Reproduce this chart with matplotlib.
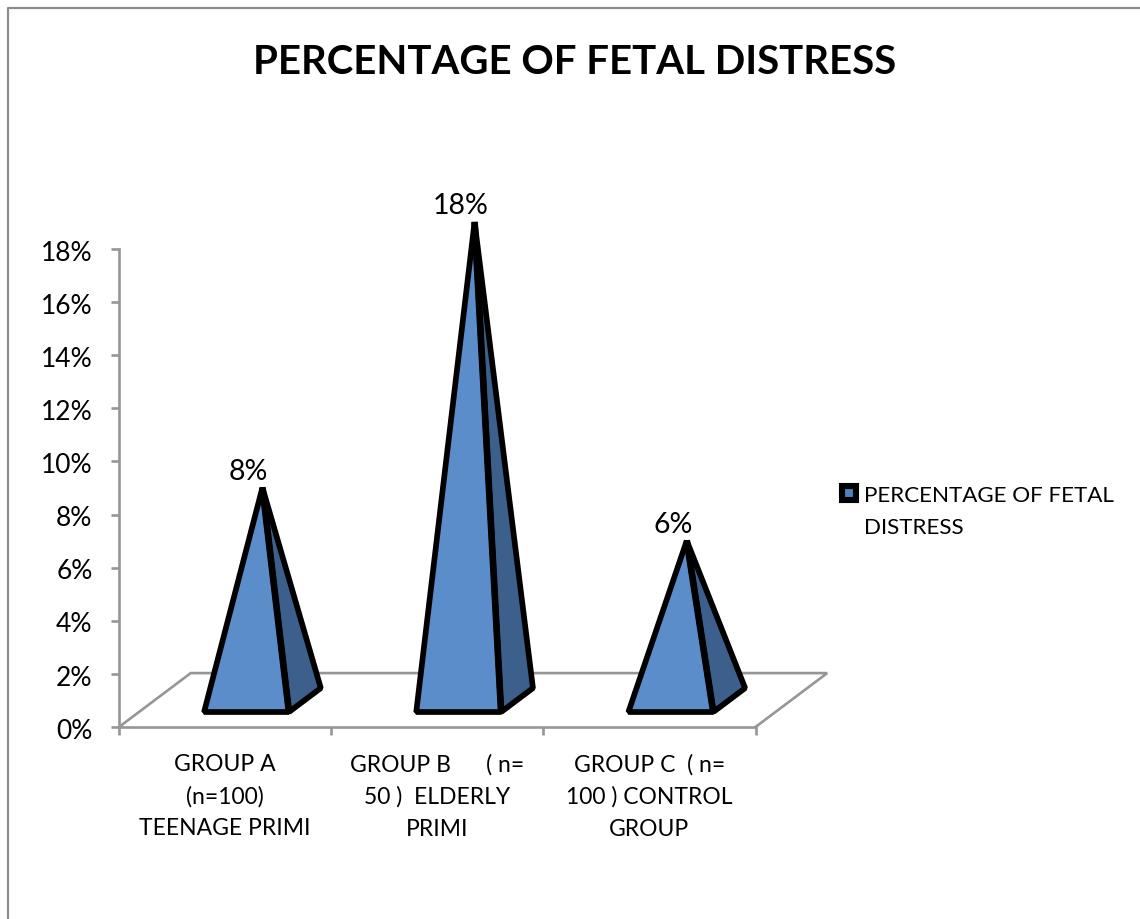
import matplotlib
matplotlib.use("Agg")
import matplotlib.pyplot as plt
from matplotlib.patches import Polygon, Patch, Rectangle
from matplotlib.lines import Line2D
from matplotlib.legend_handler import HandlerPatch

plt.rcParams['font.family'] = ['Lato', 'DejaVu Sans']

TITLE = "PERCENTAGE OF FETAL DISTRESS"
SERIES = "PERCENTAGE OF FETAL\nDISTRESS"
categories = ["GROUP A\n(n=100)\nTEENAGE PRIMI",
              "GROUP B      ( n=\n50 )  ELDERLY\nPRIMI",
              "GROUP C  ( n=\n100 ) CONTROL\nGROUP"]
values = [8, 18, 6]
yticks = [0, 2, 4, 6, 8, 10, 12, 14, 16, 18]

W, H = 1140, 919
GREY = "#969696"
FRONT = "#5B8DCB"
SIDE = "#3C5F8C"
LEGEND_FILL = "#4F81BD"

# Oblique projection of the 3D floor: one unit of depth shifts a point
# right and up in axis units.
DEPTH_X, DEPTH_Y = 0.338, 2.03


def project(x, y, d):
    return x + d * DEPTH_X, y + d * DEPTH_Y


def raised_swatch(legend, orig_handle, xdescent, ydescent, width, height, fontsize):
    # Lines the swatch up with the first row of the two-line legend label
    return Rectangle((-xdescent, -ydescent + 13.7), width, height)


fig = plt.figure(figsize=(W / 100, H / 100), dpi=100, facecolor="white")
ax = fig.add_axes([119 / W, 1 - 727 / H, (755.5 - 119) / W, (727 - 249) / H])
ax.set_xlim(0, 3)
ax.set_ylim(0, 18)
ax.patch.set_alpha(0)

# Chart frame, open at the right and bottom
fig.add_artist(Line2D([8 / W, 8 / W, 1], [0, 1 - 8 / H, 1 - 8 / H],
                      color="#8C8C8C", lw=1.6, transform=fig.transFigure))

for side in ("top", "right"):
    ax.spines[side].set_visible(False)
for side in ("left", "bottom"):
    ax.spines[side].set_color(GREY)
    ax.spines[side].set_linewidth(1.9)

ax.set_yticks(yticks)
ax.set_yticklabels([])
ax.set_xticks(range(4))
ax.set_xticklabels([])
ax.tick_params(axis="both", color=GREY, width=1.9, length=5.5)

# Value labels sit slightly below their tick marks
for v in yticks:
    ax.annotate(f"{v}%", (0, v), xytext=(-19, -3), textcoords="offset points",
                ha="right", va="center", fontsize=19, color="black",
                annotation_clip=False)

# Floor outline behind the pyramids
floor = [project(0, 0, 0), project(0, 0, 1), project(3, 0, 1), project(3, 0, 0)]
ax.plot(*zip(*floor), color=GREY, lw=1.9, clip_on=False, zorder=1,
        solid_joinstyle="miter")

# Pyramids: the apex rises from the centre of the base
HALF_WIDTH = 0.2
D_FRONT, D_BACK = 0.278, 0.722
edge = dict(edgecolor="black", linewidth=4.1, joinstyle="bevel", clip_on=False)
for i, v in enumerate(values):
    c = i + 0.507
    fl = project(c - HALF_WIDTH, 0, D_FRONT)
    fr = project(c + HALF_WIDTH, 0, D_FRONT)
    br = project(c + HALF_WIDTH, 0, D_BACK)
    apex_x, apex_y = project(c, v, 0.5)
    ax.add_patch(Polygon([fr, br, (apex_x, apex_y)], facecolor=SIDE, zorder=3, **edge))
    ax.add_patch(Polygon([fl, fr, (apex_x, apex_y)], facecolor=FRONT, zorder=4, **edge))
    # The shared ridge reads heavier than the outer edges
    ax.plot([fr[0], apex_x], [fr[1], apex_y], color="black", lw=4.8, zorder=4.5,
            clip_on=False, solid_capstyle="butt")
    ax.annotate(f"{v}%", (apex_x, apex_y), xytext=(-10, 2), textcoords="offset points",
                ha="center", va="bottom", fontsize=20.5, color="black",
                annotation_clip=False, zorder=5)

for i, label in enumerate(categories):
    ax.annotate(label, (i + 0.5, 0), xytext=(0, -19.2), textcoords="offset points",
                ha="center", va="top", fontsize=16.5, linespacing=1.64,
                color="black", annotation_clip=False)

fig.text(574.5 / W, 1 - 62 / H, TITLE, ha="center", va="center",
         fontsize=28.9, fontweight="bold", color="black")

handle = Patch(facecolor=LEGEND_FILL, edgecolor="black", linewidth=4.4, joinstyle="round")
legend = fig.legend([handle], [SERIES], loc="upper left", bbox_to_anchor=(842 / W, 1 - 486 / H),
                    frameon=False, fontsize=16.1, handlelength=0.62, handleheight=0.62,
                    handletextpad=0.36, borderpad=0, borderaxespad=0, labelspacing=0,
                    handler_map={Patch: HandlerPatch(patch_func=raised_swatch)})
legend.get_texts()[0].set_linespacing(1.76)

fig.savefig("out.png", dpi=100, facecolor="white")
